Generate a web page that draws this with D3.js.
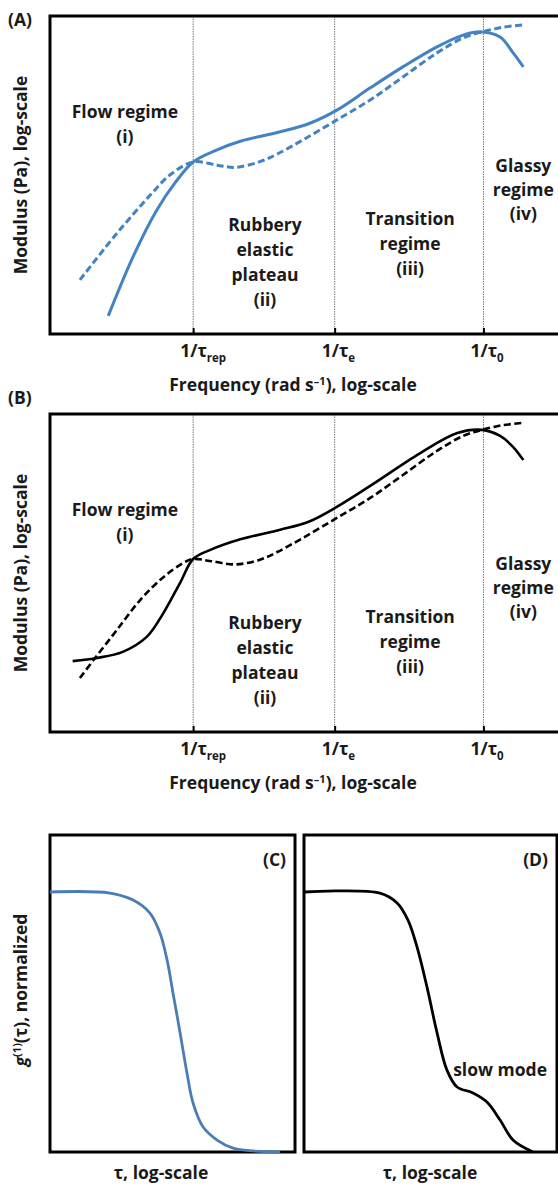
<!DOCTYPE html>
<html>
<head>
<meta charset="utf-8">
<script src="https://cdn.jsdelivr.net/npm/d3@7"></script>
<style>
  body { margin: 0; background: #fff; }
  svg { display: block; }
  text { font-family: "Open Sans", sans-serif; font-weight: 700; fill: #1a1a1a; font-size: 17.5px; }
</style>
</head>
<body>
<svg id="chart" width="558" height="1187"></svg>
<script>
// ---- data (frequency and modulus in arbitrary log units) ----
var freqTicks = [2.0, 3.95, 6.0];
var tickSubs = ["rep", "e", "0"];

var regimeText = [
  ["Flow regime", "(i)"],
  ["Rubbery", "elastic", "plateau", "(ii)"],
  ["Transition", "regime", "(iii)"],
  ["Glassy", "regime", "(iv)"]
];

// panel A (blue)
var freqA_solid = [0.83, 1.17, 1.50, 1.75, 2.00, 2.33, 2.65, 3.20, 3.60, 3.98, 4.44, 4.89, 5.36, 5.72, 5.98, 6.23, 6.41, 6.55];
var modA_solid  = [0.57, 2.42, 3.90, 4.75, 5.41, 5.79, 6.06, 6.36, 6.62, 7.04, 7.74, 8.40, 9.03, 9.40, 9.50, 9.34, 8.84, 8.40];
var freqA_dash  = [0.44, 0.85, 1.13, 1.41, 1.68, 2.00, 2.33, 2.58, 2.92, 3.16, 3.51, 3.98, 4.44, 4.89, 5.36, 5.72, 5.98, 6.27, 6.55];
var modA_dash   = [1.70, 2.89, 3.65, 4.37, 5.00, 5.41, 5.31, 5.24, 5.42, 5.66, 6.10, 6.73, 7.36, 8.08, 8.84, 9.31, 9.50, 9.65, 9.72];

// panel B (black)
var freqB_solid = [0.34, 0.68, 1.03, 1.36, 1.59, 1.82, 2.00, 2.23, 2.65, 3.20, 3.60, 3.98, 4.44, 5.13, 5.64, 5.98, 6.23, 6.41, 6.55];
var modB_solid  = [2.23, 2.33, 2.52, 2.99, 3.74, 4.69, 5.44, 5.72, 6.06, 6.36, 6.62, 7.08, 7.74, 8.77, 9.40, 9.50, 9.31, 8.96, 8.55];
var freqB_dash  = [0.44, 0.65, 0.95, 1.27, 1.59, 1.86, 2.00, 2.23, 2.58, 2.92, 3.16, 3.51, 3.98, 4.44, 4.89, 5.36, 5.72, 5.98, 6.27, 6.55];
var modB_dash   = [1.70, 2.33, 3.21, 4.15, 4.87, 5.31, 5.44, 5.38, 5.27, 5.42, 5.66, 6.10, 6.73, 7.36, 8.08, 8.84, 9.31, 9.50, 9.65, 9.72];

// panels C and D: g1(tau), normalized
var tauC = [0, 2.45, 3.39, 4.08, 4.49, 4.78, 5.02, 5.31, 5.59, 5.84, 6.25, 6.82, 7.47, 8.29, 9.39];
var gC   = [1.0, 0.996, 0.969, 0.919, 0.842, 0.738, 0.612, 0.458, 0.304, 0.188, 0.096, 0.046, 0.015, 0.004, 0.0];
var tauD = [0, 3.00, 3.68, 4.11, 4.47, 4.86, 5.26, 5.65, 6.05, 6.68, 7.23, 7.75, 8.26, 9.05];
var gD   = [1.0, 0.996, 0.958, 0.892, 0.788, 0.635, 0.458, 0.315, 0.250, 0.227, 0.192, 0.123, 0.046, 0.0];

var svg = d3.select("#chart");
var blue = "#4383c4";

function zip(a, b) {
  return a.map(function(v, i) { return [v, b[i]]; });
}

// --- modulus panels ---
function modulusPanel(top, lineColor, lineW, solid, dash, tag, tagY) {
  var left = 50, right = 558, bottom = top + 318;
  var x = d3.scaleLinear().domain([0, 7]).range([48, 556]);
  var y = d3.scaleLinear().domain([0, 10]).range([bottom, top]);
  var g = svg.append("g");

  // dotted regime boundaries
  g.selectAll(".vline")
    .data(freqTicks)
    .enter()
    .append("line")
    .attr("x1", function(d) { return x(d); })
    .attr("x2", function(d) { return x(d); })
    .attr("y1", top)
    .attr("y2", bottom)
    .attr("stroke", "#777")
    .attr("stroke-width", 1)
    .attr("stroke-dasharray", "1.5,1");

  // small inward ticks
  var axis = d3.axisBottom(x).tickValues(freqTicks).tickSize(-6).tickFormat("");
  g.append("g")
    .attr("transform", "translate(0," + bottom + ")")
    .call(axis)
    .call(function(s) { s.select(".domain").remove(); })
    .selectAll("line").attr("stroke", "#000").attr("stroke-width", 2);

  // frame (top, left, bottom)
  g.append("path")
    .attr("d", "M" + right + "," + top + "H" + left + "V" + bottom + "H" + right)
    .attr("fill", "none")
    .attr("stroke", "#000")
    .attr("stroke-width", 3);

  var line = d3.line()
    .x(function(d) { return x(d[0]); })
    .y(function(d) { return y(d[1]); })
    .curve(d3.curveCatmullRom.alpha(0.5));

  g.append("path")
    .attr("d", line(dash))
    .attr("fill", "none")
    .attr("stroke", lineColor)
    .attr("stroke-width", lineW)
    .attr("stroke-dasharray", "7,3.5");

  g.append("path")
    .attr("d", line(solid))
    .attr("fill", "none")
    .attr("stroke", lineColor)
    .attr("stroke-width", lineW);

  // regime labels (first-line anchor in data units)
  var anchors = [[1.06, 6.79], [2.99, 3.24], [4.99, 3.43], [6.55, 5.09]];
  regimeText.forEach(function(lines, i) {
    var t = g.append("text")
      .attr("text-anchor", "middle")
      .attr("x", x(anchors[i][0]))
      .attr("y", y(anchors[i][1]));
    lines.forEach(function(s, j) {
      t.append("tspan")
        .attr("x", x(anchors[i][0]))
        .attr("dy", j == 0 ? 0 : (i == 3 ? 24 : 25))
        .text(s);
    });
  });

  // tick labels 1/tau_x
  freqTicks.forEach(function(f, i) {
    var t = g.append("text")
      .attr("x", x(f) - 13)
      .attr("y", bottom + 23);
    t.append("tspan").text("1/\u03c4");
    t.append("tspan").attr("dy", 5).style("font-size", "11.5px").text(tickSubs[i]);
  });

  // x title
  var xt = g.append("text")
    .attr("text-anchor", "middle")
    .attr("x", 293)
    .attr("y", bottom + 57);
  xt.append("tspan").text("Frequency (rad s");
  xt.append("tspan").attr("dy", -6).style("font-size", "11px").text("\u20131");
  xt.append("tspan").attr("dy", 6).text("), log-scale");

  // y title
  g.append("text")
    .attr("text-anchor", "middle")
    .attr("transform", "translate(27," + (top + 159) + ") rotate(-90)")
    .text("Modulus (Pa), log-scale");

  // panel tag
  g.append("text")
    .attr("x", 8)
    .attr("y", tagY)
    .text(tag);
}

modulusPanel(16, blue, 3, zip(freqA_solid, modA_solid), zip(freqA_dash, modA_dash), "(A)", 26);
modulusPanel(414, "#000", 2.6, zip(freqB_solid, modB_solid), zip(freqB_dash, modB_dash), "(B)", 404);

// --- correlation panels ---
var yG = d3.scaleLinear().domain([0, 1]).range([1152, 892]);

function corrPanel(x0, x1, tau, gv, color, tag) {
  var x = d3.scaleLinear().domain([0, 10]).range([x0, x1]);
  var g = svg.append("g");
  g.append("rect")
    .attr("x", x0)
    .attr("y", 835)
    .attr("width", x1 - x0)
    .attr("height", 317)
    .attr("fill", "none")
    .attr("stroke", "#000")
    .attr("stroke-width", 3);

  var line = d3.line()
    .x(function(d) { return x(d[0]); })
    .y(function(d) { return yG(d[1]); })
    .curve(d3.curveCatmullRom.alpha(0.5));

  g.append("path")
    .attr("d", line(zip(tau, gv)))
    .attr("fill", "none")
    .attr("stroke", color)
    .attr("stroke-width", 2.8);

  g.append("text")
    .attr("text-anchor", "end")
    .attr("x", x1 - 9)
    .attr("y", 866)
    .text(tag);
  return x;
}

var xC = corrPanel(50, 295, tauC, gC, "#4a7db5", "(C)");
var xD = corrPanel(304, 557, tauD, gD, "#000", "(D)");

svg.append("text")
  .attr("text-anchor", "end")
  .attr("x", 547)
  .attr("y", 1076)
  .text("slow mode");

svg.append("text")
  .attr("text-anchor", "middle")
  .attr("x", 161)
  .attr("y", 1179)
  .text("\u03c4, log-scale");

svg.append("text")
  .attr("text-anchor", "middle")
  .attr("x", 430)
  .attr("y", 1179)
  .text("\u03c4, log-scale");

var gl = svg.append("text")
  .attr("text-anchor", "middle")
  .attr("transform", "translate(27,990) rotate(-90)");
gl.append("tspan").style("font-style", "italic").text("g");
gl.append("tspan").attr("dy", -6).style("font-size", "11px").text("(1)");
gl.append("tspan").attr("dy", 6).text("(\u03c4), normalized");
</script>
</body>
</html>
